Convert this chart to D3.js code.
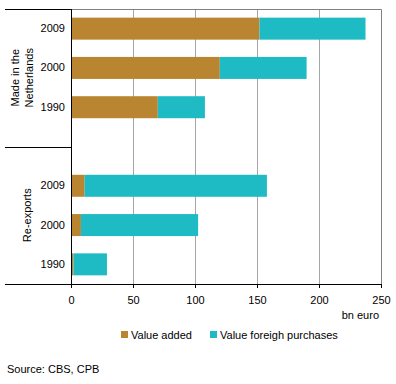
<!DOCTYPE html>
<html>
<head>
<meta charset="utf-8">
<script src="https://cdn.jsdelivr.net/npm/d3@7"></script>
<style>
  body { margin: 0; background: #fff; }
  text { font-family: "Liberation Sans", Arial, sans-serif; font-size: 11px; fill: #000; }
</style>
</head>
<body>
<script>
// data (bn euro)
var groups = ["Made in the Netherlands", "Re-exports"]
var years = ["2009", "2000", "1990"]
var madeAdded = [152, 120, 70]
var madeForeign = [85.5, 70, 38]
var reAdded = [11, 8, 2]
var reForeign = [147, 94.5, 27]
var xTicks = [0, 50, 100, 150, 200, 250]
var seriesNames = ["Value added", "Value foreigh purchases"]
var colors = ["#b98530", "#1fbbc5"]

// rows: 3 + blank + 3
var rows = []
years.forEach(function(y, i){
  rows.push({key: "m" + y, year: y, added: madeAdded[i], foreign: madeForeign[i]})
})
rows.push({key: "gap", year: "", added: 0, foreign: 0})
years.forEach(function(y, i){
  rows.push({key: "r" + y, year: y, added: reAdded[i], foreign: reForeign[i]})
})

var svg = d3.select("body").append("svg")
  .attr("width", 396)
  .attr("height", 384)

var pLeft = 71, pRight = 381, pTop = 9, pBottom = 284

var x = d3.scaleLinear().domain([0, 250]).range([pLeft, pRight])
var y = d3.scaleBand()
  .domain(rows.map(function(d){ return d.key }))
  .range([pTop, pBottom])
  .paddingInner(0.44)
  .paddingOuter(0.22)

/* gridlines */
svg.append("g")
  .selectAll("line")
  .data(xTicks.slice(1, -1))
  .enter()
  .append("line")
  .attr("x1", function(d){ return Math.round(x(d)) + 0.5 })
  .attr("x2", function(d){ return Math.round(x(d)) + 0.5 })
  .attr("y1", pTop)
  .attr("y2", pBottom)
  .attr("stroke", "#a6a6a6")

/* frame top / right */
svg.append("path")
  .attr("d", "M" + pLeft + "," + (pTop + 0.5) + "H" + (pRight + 0.5) + "V" + pBottom)
  .attr("fill", "none")
  .attr("stroke", "#808080")

/* bars */
var stacked = rows.filter(function(d){ return d.key != "gap" })
svg.append("g").selectAll("rect")
  .data(stacked)
  .enter()
  .append("rect")
  .attr("x", x(0))
  .attr("y", function(d){ return y(d.key) })
  .attr("width", function(d){ return x(d.added) - x(0) })
  .attr("height", y.bandwidth())
  .attr("fill", colors[0])

svg.append("g").selectAll("rect")
  .data(stacked)
  .enter()
  .append("rect")
  .attr("x", function(d){ return x(d.added) })
  .attr("y", function(d){ return y(d.key) })
  .attr("width", function(d){ return x(d.added + d.foreign) - x(d.added) })
  .attr("height", y.bandwidth())
  .attr("fill", colors[1])

/* axes */
var xAxis = d3.axisBottom(x).tickValues(xTicks).tickSize(4).tickPadding(6)
var gx = svg.append("g")
  .attr("transform", "translate(0," + pBottom + ")")
  .call(xAxis)
gx.select(".domain").remove()
gx.selectAll("line").attr("stroke", "#000")
gx.selectAll("text").style("font-size", "11px").attr("dy", "0.9em")

var yAxis = d3.axisLeft(y).tickSize(0).tickPadding(6)
  .tickFormat(function(k){ return k == "gap" ? "" : k.slice(1) })
var gy = svg.append("g")
  .attr("transform", "translate(" + pLeft + ",0)")
  .call(yAxis)
gy.select(".domain").remove()
gy.selectAll("text").style("font-size", "11px")

/* axis lines and group dividers */
svg.append("line")
  .attr("x1", pLeft + 0.5).attr("x2", pLeft + 0.5)
  .attr("y1", pTop).attr("y2", pBottom)
  .attr("stroke", "#000")
svg.append("line")
  .attr("x1", 5).attr("x2", pRight + 0.5)
  .attr("y1", pBottom + 0.5).attr("y2", pBottom + 0.5)
  .attr("stroke", "#000")
var midY = y("gap") + y.bandwidth() / 2
;[pTop, midY].forEach(function(v){
  svg.append("line")
    .attr("x1", 5).attr("x2", pLeft)
    .attr("y1", Math.round(v) + 0.5).attr("y2", Math.round(v) + 0.5)
    .attr("stroke", "#000")
})

/* group labels (rotated) */
var c1 = (pTop + midY) / 2
var c2 = (midY + pBottom) / 2
var g1 = svg.append("text")
  .attr("transform", "translate(19," + c1 + ") rotate(-90)")
  .attr("text-anchor", "middle")
g1.append("tspan").attr("x", 0).attr("y", 0).text("Made in the")
g1.append("tspan").attr("x", 0).attr("y", 14).text("Netherlands")
svg.append("text")
  .attr("transform", "translate(31," + c2 + ") rotate(-90)")
  .attr("text-anchor", "middle")
  .text(groups[1])

/* unit */
svg.append("text")
  .attr("x", 379).attr("y", 319)
  .attr("text-anchor", "end")
  .text("bn euro")

/* legend */
var legX = [121, 210]
var leg = svg.append("g").selectAll("g")
  .data(seriesNames)
  .enter()
  .append("g")
  .attr("transform", function(d, i){ return "translate(" + legX[i] + ",331)" })
leg.append("rect")
  .attr("width", 7).attr("height", 7)
  .attr("fill", function(d, i){ return colors[i] })
leg.append("text")
  .attr("x", 10).attr("y", 7.5)
  .text(function(d){ return d })

/* source */
svg.append("text")
  .attr("x", 7).attr("y", 373)
  .text("Source: CBS, CPB")
</script>
</body>
</html>
